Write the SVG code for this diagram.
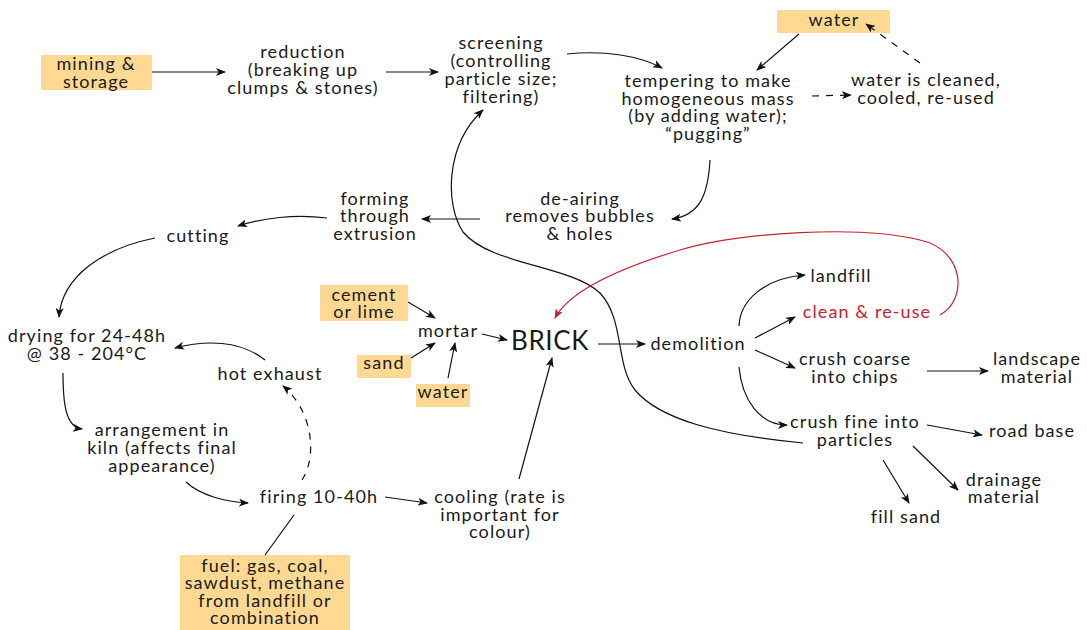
<svg xmlns="http://www.w3.org/2000/svg" width="1087" height="630" viewBox="0 0 1087 630">
  <defs>
    <marker id="arr" viewBox="0 0 10 8" refX="9" refY="4" markerWidth="10" markerHeight="8" markerUnits="userSpaceOnUse" orient="auto">
      <path d="M0,0 L10,4 L0,8 L2.5,4 Z" fill="#111"/>
    </marker>
    <marker id="arr-red" viewBox="0 0 10 8" refX="9" refY="4" markerWidth="10" markerHeight="8" markerUnits="userSpaceOnUse" orient="auto">
      <path d="M0,0 L10,4 L0,8 L2.5,4 Z" fill="#c9202f"/>
    </marker>
    <style>
      text { font-family: Lato, "Noto Sans", sans-serif; font-size: 18px; fill: #1a1a1a; text-anchor: middle; letter-spacing: 1.1px; }
      .big { font-size: 26px; letter-spacing: 0.6px; }
      .red { fill: #c9202f; }
      .box { fill: #ffd991; }
      .link { fill: none; stroke: #111; stroke-width: 1.2; marker-end: url(#arr); }
      .plain { fill: none; stroke: #111; stroke-width: 1.2; }
      .dash { stroke-dasharray: 7 7; }
      .redlink { fill: none; stroke: #c9202f; stroke-width: 1.2; marker-end: url(#arr-red); }
    </style>
  </defs>

  <rect width="1087" height="630" fill="#fff"/>

  <!-- nodes -->
  <g id="mining">
    <rect class="box" x="41" y="55" width="111" height="35"/>
    <text><tspan x="96" y="70">mining &amp;</tspan><tspan x="96" y="88">storage</tspan></text>
  </g>
  <g id="reduction">
    <text><tspan x="303" y="58">reduction</tspan><tspan x="303" y="76">(breaking up</tspan><tspan x="303" y="94">clumps &amp; stones)</tspan></text>
  </g>
  <g id="screening">
    <text><tspan x="501" y="49">screening</tspan><tspan x="501" y="67">(controlling</tspan><tspan x="501" y="85">particle size;</tspan><tspan x="501" y="103">filtering)</tspan></text>
  </g>
  <g id="tempering">
    <text><tspan x="708" y="87">tempering to make</tspan><tspan x="708" y="105">homogeneous mass</tspan><tspan x="708" y="122">(by adding water);</tspan><tspan x="708" y="140">“pugging”</tspan></text>
  </g>
  <g id="water-top">
    <rect class="box" x="777" y="10" width="113" height="23"/>
    <text x="834" y="26">water</text>
  </g>
  <g id="water-cleaned">
    <text><tspan x="926" y="86">water is cleaned,</tspan><tspan x="926" y="104">cooled, re-used</tspan></text>
  </g>
  <g id="de-airing">
    <text><tspan x="580" y="205">de-airing</tspan><tspan x="580" y="222">removes bubbles</tspan><tspan x="580" y="240">&amp; holes</tspan></text>
  </g>
  <g id="forming">
    <text><tspan x="375" y="205">forming</tspan><tspan x="375" y="222">through</tspan><tspan x="375" y="240">extrusion</tspan></text>
  </g>
  <g id="cutting">
    <text x="198" y="242">cutting</text>
  </g>
  <g id="drying">
    <text><tspan x="87" y="342">drying for 24-48h</tspan><tspan x="87" y="360">@ 38 - 204°C</tspan></text>
  </g>
  <g id="hot-exhaust">
    <text x="270" y="380">hot exhaust</text>
  </g>
  <g id="arrangement">
    <text><tspan x="162" y="436">arrangement in</tspan><tspan x="162" y="454">kiln (affects final</tspan><tspan x="162" y="472">appearance)</tspan></text>
  </g>
  <g id="firing">
    <text x="319" y="503">firing 10-40h</text>
  </g>
  <g id="cooling">
    <text><tspan x="500" y="503">cooling (rate is</tspan><tspan x="500" y="521">important for</tspan><tspan x="500" y="538">colour)</tspan></text>
  </g>
  <g id="fuel">
    <rect class="box" x="180" y="555" width="170" height="75"/>
    <text><tspan x="265" y="572">fuel: gas, coal,</tspan><tspan x="265" y="589">sawdust, methane</tspan><tspan x="265" y="607">from landfill or</tspan><tspan x="265" y="624">combination</tspan></text>
  </g>
  <g id="cement">
    <rect class="box" x="320" y="285" width="88" height="36"/>
    <text><tspan x="364" y="301">cement</tspan><tspan x="364" y="318">or lime</tspan></text>
  </g>
  <g id="sand">
    <rect class="box" x="357" y="355" width="54" height="23"/>
    <text x="384" y="369">sand</text>
  </g>
  <g id="water-mortar">
    <rect class="box" x="416" y="384" width="54" height="23"/>
    <text x="443" y="398">water</text>
  </g>
  <g id="mortar">
    <text x="448" y="337">mortar</text>
  </g>
  <g id="brick">
    <text class="big" x="550" y="350">BRICK</text>
  </g>
  <g id="demolition">
    <text x="698" y="350">demolition</text>
  </g>
  <g id="landfill">
    <text x="841" y="282">landfill</text>
  </g>
  <g id="clean-reuse">
    <text class="red" x="867" y="318">clean &amp; re-use</text>
  </g>
  <g id="crush-coarse">
    <text><tspan x="855" y="365">crush coarse</tspan><tspan x="855" y="383">into chips</tspan></text>
  </g>
  <g id="landscape">
    <text><tspan x="1037" y="365">landscape</tspan><tspan x="1037" y="383">material</tspan></text>
  </g>
  <g id="crush-fine">
    <text><tspan x="855" y="428">crush fine into</tspan><tspan x="855" y="446">particles</tspan></text>
  </g>
  <g id="road-base">
    <text x="1032" y="437">road base</text>
  </g>
  <g id="drainage">
    <text><tspan x="1004" y="486">drainage</tspan><tspan x="1004" y="503">material</tspan></text>
  </g>
  <g id="fill-sand">
    <text x="906" y="523">fill sand</text>
  </g>

  <!-- connectors, drawn last so arrowheads sit on top of the boxes -->
  <g id="connectors">
    <path class="link" d="M152,72 L225,72"/>
    <path class="link" d="M386,72 L438,72"/>
    <path class="link" d="M567,54 C605,50 640,56 662,68"/>
    <path class="link" d="M799,34 L757,70"/>
    <path class="link dash" d="M812,96 L851,95"/>
    <path class="link dash" d="M920,63 L866,24"/>
    <path class="link" d="M710,160 C708,195 700,215 672,219"/>
    <path class="link" d="M480,219 L422,219"/>
    <path class="link" d="M327,218 C295,214 262,218 238,226"/>
    <path class="link" d="M155,238 C105,248 62,275 59,317"/>
    <path class="link" d="M265,360 C240,340 205,340 175,348"/>
    <path class="link" d="M63,373 C63,405 66,427 82,429"/>
    <path class="link" d="M186,482 C200,495 225,502 248,503"/>
    <path class="link dash" d="M302,480 C318,455 312,410 283,386"/>
    <path class="link" d="M385,497 L427,503"/>
    <path class="plain" d="M294,515 L265,555"/>
    <path class="link" d="M519,479 L552,358"/>
    <path class="link" d="M408,302 L435,318"/>
    <path class="link" d="M411,358 L435,343"/>
    <path class="link" d="M448,378 L455,343"/>
    <path class="link" d="M482,334 L507,340"/>
    <path class="link" d="M598,344 L645,344"/>
    <path class="link" d="M739,326 C740,300 765,278 805,275"/>
    <path class="link" d="M755,338 L795,317"/>
    <path class="link" d="M755,350 L795,368"/>
    <path class="link" d="M927,371 L988,371"/>
    <path class="link" d="M739,367 C742,400 760,425 787,425"/>
    <path class="link" d="M927,425 L982,435"/>
    <path class="link" d="M913,446 L958,490"/>
    <path class="link" d="M883,460 L909,503"/>
    <!-- recycled particles return to screening -->
    <path class="link" d="M803,443 C720,435 660,420 635,390 C615,365 625,320 600,293 C570,265 490,265 463,232 C445,205 445,145 483,110"/>
    <!-- clean & re-use loop back to brick -->
    <path class="redlink" d="M940,315 C968,300 965,250 920,240 C860,225 740,232 680,250 C620,268 570,290 555,318"/>
  </g>
</svg>
